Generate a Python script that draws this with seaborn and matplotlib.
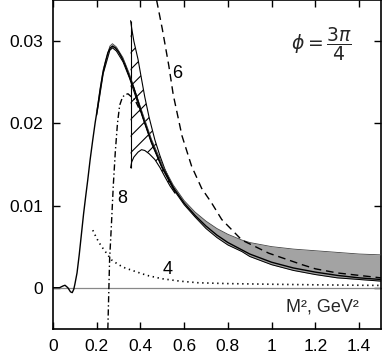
import numpy as np
import pandas as pd
import matplotlib
matplotlib.use("Agg")
import matplotlib.pyplot as plt
import seaborn as sns

# ---------------- data ----------------
main_x = [0, 0.03, 0.045, 0.055, 0.068, 0.08, 0.088, 0.095, 0.10, 0.11, 0.12, 0.13, 0.14, 0.15,
          0.159, 0.17, 0.182, 0.193, 0.205, 0.216, 0.228, 0.24, 0.251, 0.262, 0.272, 0.285, 0.30,
          0.313, 0.33, 0.351, 0.37, 0.389, 0.412, 0.45, 0.497, 0.55, 0.6, 0.65, 0.7, 0.75, 0.8,
          0.9, 1.0, 1.1, 1.2, 1.3, 1.4, 1.5]
main_y = [0, 0, 0.0002, 0.0003, 0.0, -0.0005, -0.0006, -0.0002, 0.0004, 0.0018, 0.0040, 0.0065,
          0.0090, 0.0112, 0.0131, 0.0156, 0.0180, 0.0201, 0.0221, 0.0242, 0.0261, 0.0275, 0.0286,
          0.0292, 0.0294, 0.0292, 0.0287, 0.0281, 0.0271, 0.0256, 0.0243, 0.0227, 0.0207, 0.0178,
          0.0148, 0.0122, 0.0103, 0.0088, 0.0075, 0.0064, 0.0055, 0.0041, 0.0031, 0.0024, 0.0019,
          0.0015, 0.0012, 0.0010]

band_x = [0.2, 0.23, 0.26, 0.272, 0.29, 0.32, 0.35, 0.4, 0.45, 0.5, 0.55, 0.6, 0.65, 0.7, 0.75,
          0.8, 0.864, 0.9, 1.0, 1.1, 1.2, 1.3, 1.4, 1.5]
band_hi = [0.0215, 0.0266, 0.0294, 0.0297, 0.0293, 0.0280, 0.0260, 0.0220, 0.0181, 0.0150, 0.0125,
           0.0106, 0.0092, 0.0081, 0.0072, 0.0065, 0.0058, 0.0055, 0.0050, 0.0047, 0.0045, 0.0043,
           0.0041, 0.0040]
band_lo = [0.0210, 0.0261, 0.0289, 0.0292, 0.0288, 0.0275, 0.0255, 0.0215, 0.0176, 0.0145, 0.0120,
           0.0101, 0.0086, 0.0072, 0.0061, 0.0052, 0.0044, 0.0038, 0.0028, 0.0021, 0.0016, 0.0012,
           0.0010, 0.0008]

hatch_x = [0.355, 0.36, 0.37, 0.389, 0.405, 0.42, 0.44, 0.466, 0.49, 0.512, 0.535, 0.558]
hatch_hi = [0.0325, 0.0316, 0.0300, 0.0278, 0.0254, 0.0232, 0.0207, 0.0180, 0.0160, 0.0144, 0.0130, 0.0118]
hatch_lo = [0.0146, 0.0153, 0.0159, 0.0165, 0.0168, 0.0167, 0.0163, 0.0156, 0.0146, 0.0135, 0.0124, 0.0115]

dash6_x = [0.474, 0.50, 0.53, 0.55, 0.59, 0.634, 0.68, 0.726, 0.772, 0.864, 0.987, 1.14, 1.2, 1.3, 1.4, 1.5]
dash6_y = [0.0350, 0.0315, 0.0270, 0.0235, 0.0185, 0.0148, 0.0121, 0.0103, 0.0083, 0.0058, 0.0042,
           0.0028, 0.0023, 0.0018, 0.0015, 0.0012]

dd8_x = [0.251, 0.259, 0.267, 0.276, 0.285, 0.295, 0.305, 0.318, 0.330, 0.343, 0.36, 0.374, 0.387, 0.40]
dd8_y = [-0.005, 0.0034, 0.0075, 0.0125, 0.0165, 0.0200, 0.0222, 0.0232, 0.0235, 0.0236, 0.0232,
         0.0229, 0.0222, 0.0214]

dot4_x = [0.182, 0.20, 0.22, 0.245, 0.267, 0.30, 0.33, 0.374, 0.43, 0.497, 0.58, 0.665, 0.8, 1.0, 1.2, 1.4, 1.5]
dot4_y = [0.0070, 0.0060, 0.0051, 0.0042, 0.0034, 0.0028, 0.0024, 0.0020, 0.0015, 0.0011, 0.0008,
          0.0006, 0.0005, 0.00042, 0.00035, 0.0003, 0.00028]

x_ticks = [0, 0.2, 0.4, 0.6, 0.8, 1.0, 1.2, 1.4]
x_ticklabels = ["0", "0.2", "0.4", "0.6", "0.8", "1", "1.2", "1.4"]
y_ticks = [0, 0.01, 0.02, 0.03]
y_ticklabels = ["0", "0.01", "0.02", "0.03"]

curve_labels = ["6", "8", "4"]
curve_label_x = [0.568, 0.317, 0.524]
curve_label_y = [0.0261, 0.0109, 0.0022]

# ---------------- style ----------------
sns.set_theme(style="ticks")
plt.rcParams["font.family"] = ["Liberation Sans", "DejaVu Sans"]
plt.rcParams["mathtext.fontset"] = "dejavusans"
plt.rcParams["hatch.linewidth"] = 0.8

fig = plt.figure(figsize=(3.82, 3.58), dpi=100)
ax = fig.add_axes([0.1387, 0.0816, 0.8584, 0.918])

# zero line
ax.axhline(0, color="#888888", lw=0.9, zorder=1)

# grey band
ax.fill_between(band_x, band_lo, band_hi, color="#a3a3a3", lw=0, zorder=2)

# hatched region
ax.fill_between(hatch_x, hatch_lo, hatch_hi, facecolor="none", edgecolor="black",
                hatch="//", lw=0, zorder=3)

df_hatch = pd.DataFrame({"x": hatch_x, "lo": hatch_lo, "hi": hatch_hi})
sns.lineplot(data=df_hatch, x="x", y="lo", ax=ax, color="black", lw=0.8, zorder=4)
sns.lineplot(data=df_hatch, x="x", y="hi", ax=ax, color="black", lw=0.8, zorder=4)
ax.vlines(hatch_x[0], hatch_lo[0], hatch_hi[0], color="black", lw=0.8, zorder=4)

# band edges
sns.lineplot(x=band_x, y=band_hi, ax=ax, color="#444444", lw=0.6, zorder=4)
sns.lineplot(x=band_x, y=band_lo, ax=ax, color="black", lw=0.7, zorder=4)

# main curve
sns.lineplot(x=main_x, y=main_y, ax=ax, color="black", lw=1.0, zorder=5)

# other curves
sns.lineplot(x=dash6_x, y=dash6_y, ax=ax, color="black", lw=1.0,
             linestyle=(0, (5.5, 3.5)), zorder=5)
sns.lineplot(x=dd8_x, y=dd8_y, ax=ax, color="black", lw=1.0,
             linestyle=(0, (4.5, 2, 1, 2)), zorder=5)
sns.lineplot(x=dot4_x, y=dot4_y, ax=ax, color="black", lw=1.2,
             linestyle=(0, (0.8, 2.2)), zorder=5)

for lab, lx, ly in zip(curve_labels, curve_label_x, curve_label_y):
    ax.text(lx, ly, lab, fontsize=13, ha="center", va="center", color="black", zorder=6)

ax.text(1.228, 0.0297, r"$\phi = \dfrac{3\pi}{4}$", fontsize=13.5, ha="center", va="center")
ax.text(1.40, -0.0029, "M², GeV²", fontsize=13, ha="right", va="baseline")

ax.set_xlim(0, 1.5)
ax.set_ylim(-0.005, 0.035)
ax.set_xticks(x_ticks)
ax.set_xticklabels(x_ticklabels)
ax.set_yticks(y_ticks)
ax.set_yticklabels(y_ticklabels)
ax.set_xlabel("")
ax.set_ylabel("")
ax.tick_params(direction="in", length=5, width=1.0, top=True, right=True,
               labelsize=12.5, pad=7, color="black", labelcolor="black")
for s in ax.spines.values():
    s.set_visible(True)
    s.set_color("black")
    s.set_linewidth(1.2)

fig.savefig("out.png", dpi=100)
